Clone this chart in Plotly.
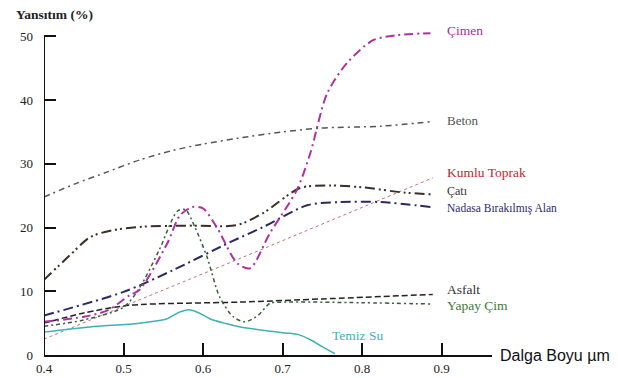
import plotly.graph_objects as go

# ---- data (wavelength µm, reflectance %) ----
cimen_x = [0.40, 0.45, 0.48, 0.508, 0.52, 0.555, 0.571, 0.586, 0.60, 0.618, 0.643, 0.659, 0.684, 0.718, 0.735, 0.756, 0.781, 0.814, 0.844, 0.886]
cimen_y = [5.2, 6.0, 7.0, 9.4, 10.2, 17.5, 21.9, 23.2, 23.0, 19.9, 14.4, 13.6, 19.1, 25.9, 31.7, 41.0, 45.8, 49.4, 50.2, 50.5]

beton_x = [0.40, 0.44, 0.479, 0.52, 0.562, 0.60, 0.643, 0.70, 0.747, 0.823, 0.886]
beton_y = [24.8, 26.9, 28.7, 30.6, 32.1, 33.1, 34.0, 35.0, 35.6, 35.9, 36.6]

cati_x = [0.40, 0.433, 0.458, 0.487, 0.52, 0.58, 0.643, 0.676, 0.722, 0.76, 0.801, 0.852, 0.889]
cati_y = [11.8, 15.7, 18.5, 19.6, 20.1, 20.3, 20.4, 22.3, 26.2, 26.6, 26.3, 25.5, 25.2]

nadasa_x = [0.40, 0.50, 0.562, 0.634, 0.676, 0.731, 0.772, 0.823, 0.889]
nadasa_y = [6.2, 9.9, 13.3, 17.7, 20.1, 23.5, 24.0, 24.0, 23.2]

kumlu_x = [0.40, 0.634, 0.889]
kumlu_y = [2.5, 14.5, 27.8]

asfalt_x = [0.40, 0.45, 0.508, 0.647, 0.75, 0.889]
asfalt_y = [5.0, 6.6, 7.8, 8.3, 8.8, 9.5]

yapay_x = [0.40, 0.45, 0.50, 0.52, 0.545, 0.568, 0.578, 0.59, 0.605, 0.621, 0.638, 0.653, 0.67, 0.684, 0.70, 0.80, 0.889]
yapay_y = [4.5, 5.5, 7.5, 10.5, 16.5, 22.6, 22.8, 20.0, 15.4, 9.1, 6.0, 5.2, 6.3, 8.1, 8.3, 8.2, 8.0]

su_x = [0.40, 0.458, 0.52, 0.555, 0.57, 0.582, 0.595, 0.61, 0.63, 0.647, 0.70, 0.72, 0.735, 0.75, 0.766]
su_y = [3.6, 4.4, 5.0, 5.7, 6.7, 7.1, 6.6, 5.6, 4.9, 4.4, 3.5, 3.2, 2.4, 1.3, 0.2]

x_ticks = [0.4, 0.5, 0.6, 0.7, 0.8, 0.9]
y_ticks = [0, 10, 20, 30, 40, 50]

labels = ["Çimen", "Beton", "Kumlu Toprak", "Çatı", "Nadasa Bırakılmış Alan", "Asfalt", "Yapay Çim", "Temiz Su"]
label_x = [0.904, 0.904, 0.904, 0.904, 0.904, 0.904, 0.904, 0.76]
label_y = [50.9, 36.8, 28.7, 25.7, 23.0, 10.3, 7.8, 3.0]
label_colors = ["#b02a9a", "#555555", "#c0282a", "#333333", "#2a2a72", "#333333", "#3c7a3c", "#40b0c0"]
label_sizes = [13.5, 13, 13.5, 12, 11.5, 13.5, 13.5, 13.5]

X_RANGE = [0.4, 0.9635]
Y_RANGE = [0, 51]
Y_TOP = 50

SERIF = "Liberation Serif"


def px(x):
    return (x - X_RANGE[0]) / (X_RANGE[1] - X_RANGE[0])


def py(y):
    return (y - Y_RANGE[0]) / (Y_RANGE[1] - Y_RANGE[0])


fig = go.Figure()


def add(x, y, color, width, dash, shape="spline"):
    fig.add_trace(go.Scatter(x=x, y=y, mode="lines",
                             line=dict(color=color, width=width, dash=dash, shape=shape, smoothing=0.8),
                             showlegend=False, hoverinfo="skip"))


add(beton_x, beton_y, "#555555", 1.5, "6px,4px,2px,4px")
add(kumlu_x, kumlu_y, "#c87070", 1, "dot", "linear")
add(cati_x, cati_y, "#3a2e26", 2, "10px,4px,2px,3px,2px,4px")
add(nadasa_x, nadasa_y, "#2a2a60", 2, "10px,4px,2px,4px")
add(asfalt_x, asfalt_y, "#222222", 1.5, "6px,3px")
add(yapay_x, yapay_y, "#35603a", 1.5, "4px,3px,2px,3px")
add(su_x, su_y, "#40b0b8", 1.5, "solid")
add(cimen_x, cimen_y, "#b030a0", 2, "9px,4px,2px,4px")

for t, xx, yy, c, s in zip(labels, label_x, label_y, label_colors, label_sizes):
    fig.add_annotation(x=px(xx), y=py(yy), xref="paper", yref="paper", text=t, showarrow=False,
                       xanchor="left", yanchor="middle",
                       font=dict(family=SERIF, size=s, color=c))

fig.add_annotation(x=px(0.9715), y=py(0), xref="paper", yref="paper", text="Dalga Boyu µm", showarrow=False,
                   xanchor="left", yanchor="middle",
                   font=dict(family="Liberation Sans", size=16, color="#111111"))
fig.add_annotation(x=px(0.362), y=py(53.5), xref="paper", yref="paper", text="<b>Yansıtım (%)</b>", showarrow=False,
                   xanchor="left", yanchor="middle",
                   font=dict(family=SERIF, size=13.5, color="#222222"))

# y axis line only up to the top tick
fig.add_shape(type="line", xref="x", yref="y", x0=X_RANGE[0], x1=X_RANGE[0], y0=0, y1=Y_TOP,
              line=dict(color="#111111", width=2))

# page body has an 8px margin, so the figure is 8px smaller and shifted
fig.update_layout(
    width=610, height=370,
    margin=dict(l=36, r=126, t=22, b=23),
    paper_bgcolor="white", plot_bgcolor="white",
    xaxis=dict(range=X_RANGE, tickvals=x_ticks, ticktext=[str(v) for v in x_ticks], automargin=False,
               showgrid=False, zeroline=False, showline=True, linecolor="#111111", linewidth=2,
               ticks="inside", ticklen=12, tickwidth=2, tickcolor="#111111",
               tickfont=dict(family=SERIF, size=13, color="#222222")),
    yaxis=dict(range=Y_RANGE, tickvals=y_ticks, ticktext=[str(v) for v in y_ticks], automargin=False,
               showgrid=False, zeroline=False, showline=False,
               ticks="inside", ticklen=12, tickwidth=2, tickcolor="#111111", ticklabelstandoff=10,
               tickfont=dict(family=SERIF, size=13, color="#222222")),
)

fig.write_html("out.html")
